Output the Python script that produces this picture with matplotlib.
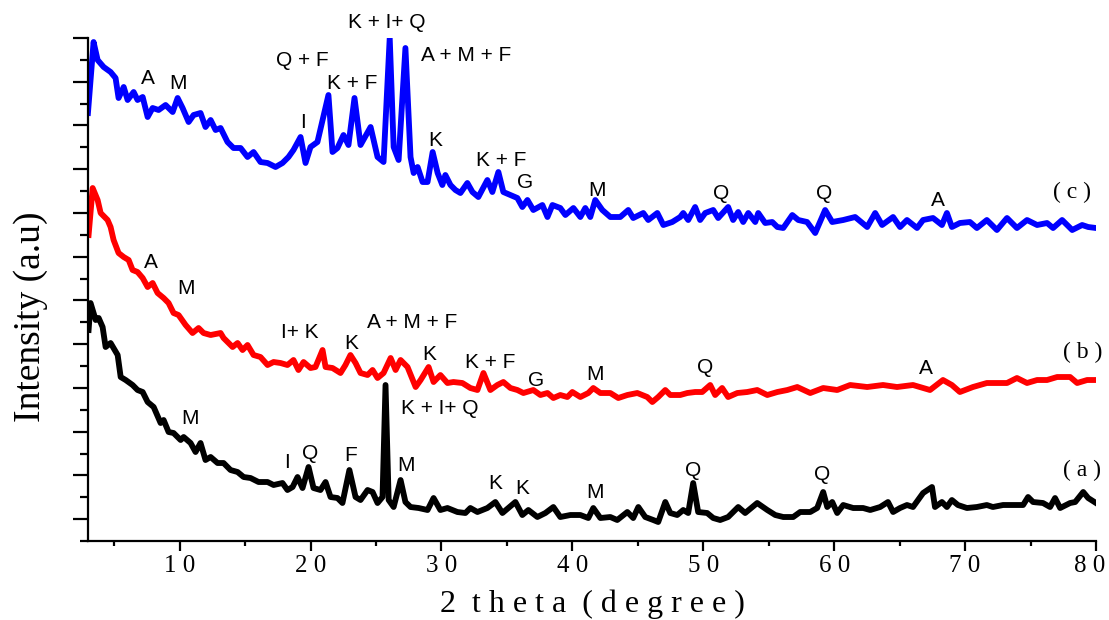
"""
XRD patterns of samples (a), (b), (c) with phase labels
"""

import matplotlib
matplotlib.use('Agg')
import matplotlib.pyplot as plt
from matplotlib.ticker import MultipleLocator, FuncFormatter
from matplotlib.transforms import ScaledTranslation

# 2 theta (degree) and intensity (a.u., curves already stacked)
theta_a = [3.05, 3.2, 3.59, 3.82, 4.12, 4.35, 4.73, 5.27, 5.5, 5.88, 6.41, 6.79, 7.18, 7.56, 8.02,
           8.55, 8.78, 9.16, 9.54, 10.08, 10.31, 10.84, 11.22, 11.6, 11.98, 12.37, 12.9, 13.36,
           13.89, 14.43, 14.89, 15.42, 16.03, 16.72, 17.18, 17.86, 18.24, 18.63, 19.01, 19.39,
           19.85, 20.23, 20.76, 21.15, 21.53, 22.06, 22.44, 22.97, 23.44, 23.82, 24.36, 24.74,
           25.12, 25.5, 25.73, 25.97, 26.35, 26.88, 27.25, 27.64, 28.26, 28.94, 29.4, 29.92,
           30.46, 31.22, 31.83, 32.21, 32.75, 33.51, 34.12, 34.66, 35.11, 35.65, 36.18, 36.64,
           37.33, 37.94, 38.55, 39.08, 39.85, 40.61, 41.22, 41.6, 42.14, 42.9, 43.43, 44.2,
           44.65, 45.04, 45.57, 46.18, 46.56, 47.1, 47.48, 48.01, 48.47, 48.85, 49.23, 49.61,
           50.3, 50.76, 51.29, 51.9, 52.67, 53.2, 54.12, 54.89, 55.5, 56.11, 56.87, 57.4, 58.17,
           58.7, 59.16, 59.47, 59.85, 60.23, 60.69, 61.45, 62.21, 62.75, 63.51, 64.11, 64.5,
           65.03, 65.56, 66.02, 66.79, 67.47, 67.7, 68.23, 68.61, 68.99, 69.45, 70.14, 70.9,
           71.66, 72.12, 72.9, 73.66, 74.43, 74.81, 75.19, 75.95, 76.49, 76.87, 77.26, 78.02,
           78.41, 79.02, 79.4, 80.0]
int_a = [211, 238, 221, 223, 214, 194, 198, 186, 164, 161, 156, 151, 149, 139, 134,
         118, 121, 109, 108, 101, 104, 98, 89, 98, 81, 84, 78, 78,
         71, 69, 64, 63, 59, 59, 56, 58, 51, 54, 64, 53,
         74, 53, 51, 59, 44, 43, 38, 71, 44, 41, 51, 49,
         38, 44, 156, 41, 34, 61, 39, 34, 33, 31, 43, 31,
         33, 29, 28, 33, 29, 33, 39, 28, 33, 39, 26, 31,
         24, 28, 34, 24, 26, 26, 23, 33, 23, 24, 21, 29,
         23, 34, 24, 21, 19, 39, 28, 26, 31, 28, 58, 29,
         28, 23, 21, 24, 34, 28, 38, 31, 26, 24, 24, 29, 29,
         33, 49, 34, 39, 28, 36, 33, 33, 31, 34, 39, 29,
         33, 36, 34, 48, 54, 34, 39, 34, 41, 36, 33, 34,
         36, 34, 36, 36, 36, 44, 39, 38, 34, 43, 33, 38,
         39, 49, 43, 38]

theta_b = [3.05, 3.36, 3.74, 3.97, 4.5, 4.73, 4.96, 5.34, 5.73, 6.11, 6.41, 6.79, 7.18, 7.56, 7.94,
           8.32, 8.78, 9.16, 9.54, 9.92, 10.46, 10.99, 11.45, 11.83, 12.37, 13.13, 13.36, 14.05,
           14.43, 14.81, 15.19, 15.65, 16.18, 16.72, 17.18, 17.71, 18.24, 18.7, 19.08, 19.47,
           20.0, 20.38, 20.92, 21.15, 21.68, 22.29, 22.67, 23.05, 23.44, 23.82, 24.36, 24.74,
           25.12, 25.58, 26.12, 26.5, 26.88, 27.41, 28.03, 28.41, 29.02, 29.4, 29.92, 30.46,
           30.92, 31.6, 32.21, 32.75, 33.21, 33.74, 34.27, 34.73, 35.27, 35.8, 36.26, 37.02,
           37.56, 38.1, 38.55, 39.08, 39.62, 40.0, 40.61, 41.22, 41.6, 42.14, 42.9, 43.51,
           44.2, 44.96, 45.72, 46.11, 46.56, 47.1, 47.48, 48.24, 48.78, 49.38, 49.92, 50.53,
           50.91, 51.44, 51.9, 52.6, 53.36, 54.12, 54.89, 55.66, 56.42, 57.18, 58.17, 59.16,
           60.23, 61.22, 62.52, 63.73, 64.8, 66.02, 67.32, 68.31, 68.99, 69.6, 70.6, 71.66,
           72.43, 73.2, 73.96, 74.73, 75.5, 76.26, 77.03, 78.02, 78.56, 79.32, 80.0]
int_b = [306, 353, 341, 328, 321, 314, 301, 288, 284, 281, 271, 269, 263, 254, 258,
         248, 243, 238, 228, 226, 216, 208, 213, 208, 206, 208, 203, 194,
         198, 191, 196, 186, 184, 176, 179, 178, 176, 181, 171, 179,
         173, 174, 191, 174, 173, 168, 176, 186, 178, 168, 166, 171,
         163, 168, 183, 171, 181, 174, 154, 161, 174, 159, 166, 158,
         159, 158, 153, 151, 168, 151, 156, 159, 153, 151, 148, 151,
         146, 148, 143, 146, 144, 149, 144, 148, 153, 148, 148, 143,
         146, 148, 144, 139, 144, 151, 146, 146, 148, 149, 149, 156,
         146, 153, 144, 148, 149, 151, 146, 149, 151, 154, 148, 153,
         151, 156, 154, 156, 154, 156, 151, 161, 156, 149, 154, 158,
         158, 158, 163, 158, 161, 161, 164, 164, 158, 161, 161]

theta_c = [3.0, 3.43, 3.74, 4.2, 4.73, 5.11, 5.34, 5.73, 6.03, 6.49, 6.79, 7.18, 7.56, 7.94, 8.4,
           8.93, 9.47, 9.85, 10.23, 10.69, 11.07, 11.6, 11.98, 12.37, 12.75, 13.13, 13.66, 14.12,
           14.66, 15.19, 15.65, 16.18, 16.72, 17.33, 17.86, 18.32, 18.7, 19.24, 19.62, 20.0,
           20.53, 20.92, 21.37, 21.68, 22.06, 22.52, 22.9, 23.36, 23.82, 24.59, 25.12, 25.58,
           26.05, 26.35, 26.73, 27.25, 27.64, 27.88, 28.18, 28.56, 28.94, 29.33, 29.71, 30.07,
           30.3, 30.69, 31.07, 31.45, 31.98, 32.37, 32.82, 33.51, 33.89, 34.35, 34.73, 35.27,
           35.8, 36.18, 36.57, 37.02, 37.71, 38.1, 38.48, 39.08, 39.47, 40.08, 40.61, 40.99,
           41.37, 41.75, 42.29, 42.9, 43.66, 44.27, 44.65, 45.42, 45.8, 46.49, 46.95, 47.63,
           48.24, 48.47, 48.85, 49.38, 49.76, 50.15, 50.76, 51.14, 51.9, 52.28, 52.67, 53.05,
           53.44, 53.97, 54.2, 54.73, 55.27, 55.66, 56.11, 56.8, 57.26, 57.93, 58.55, 59.31,
           59.85, 60.69, 61.6, 62.52, 63.13, 63.66, 64.5, 65.03, 65.56, 66.33, 66.79, 67.55,
           68.23, 68.61, 68.99, 69.6, 70.37, 70.9, 71.66, 72.43, 73.2, 73.96, 74.73, 75.5,
           76.26, 76.72, 77.41, 78.18, 78.94, 79.4, 80.0]
int_c = [428, 499, 481, 474, 469, 463, 443, 454, 441, 449, 441, 444, 424, 433, 431,
         436, 429, 443, 433, 419, 426, 428, 414, 421, 411, 413, 399, 393,
         393, 384, 389, 379, 378, 374, 378, 384, 391, 404, 378, 394,
         399, 421, 446, 389, 393, 406, 396, 443, 396, 414, 384, 379,
         503, 394, 381, 493, 384, 368, 374, 359, 359, 389, 368, 356,
         366, 356, 351, 348, 358, 349, 344, 361, 349, 369, 349, 346,
         343, 334, 341, 331, 336, 324, 336, 333, 326, 333, 324, 333,
         324, 341, 331, 324, 324, 331, 323, 328, 321, 328, 316, 319,
         324, 328, 321, 334, 321, 328, 331, 323, 334, 321, 329, 319,
         328, 319, 328, 318, 319, 314, 313, 326, 321, 319, 308, 331,
         319, 321, 324, 314, 328, 316, 324, 314, 321, 313, 321, 323,
         316, 328, 314, 318, 319, 313, 321, 311, 323, 313, 321, 316,
         318, 313, 321, 311, 316, 314, 313]

x_major = [10, 20, 30, 40, 50, 60, 70, 80]
x_minor = [5, 15, 25, 35, 45, 55, 65, 75]

# phase labels: (text, 2 theta, intensity)
labels_a = [('M', 10.8, 123), ('I', 18.2, 79), ('Q', 20.0, 88), ('F', 23.05, 86),
            ('K + I+ Q', 29.9, 133), ('M', 27.3, 76), ('K', 34.1, 58), ('K', 36.2, 53),
            ('M', 41.75, 49), ('Q', 49.2, 71), ('Q', 59.1, 67)]
labels_b = [('A', 7.8, 279), ('M', 10.5, 253), ('I+ K', 19.2, 209), ('K', 23.1, 198),
            ('A + M + F', 27.8, 219), ('K', 29.1, 187), ('K + F', 33.7, 179), ('G', 37.2, 161),
            ('M', 41.75, 167), ('Q', 50.15, 174), ('A', 67.0, 173)]
labels_c = [('A', 7.6, 463), ('M', 9.85, 458), ('Q + F', 19.4, 481), ('I', 19.4, 419),
            ('K + F', 23.2, 458), ('K + I+ Q', 25.8, 519), ('A + M + F', 31.85, 486),
            ('K', 29.5, 401), ('K + F', 34.6, 381), ('G', 36.4, 359), ('M', 41.9, 351),
            ('Q', 51.4, 348), ('Q', 59.2, 348), ('A', 67.9, 341)]
sample_tags = [('( a )', 78.9, 71), ('( b )', 79.0, 189), ('( c )', 78.2, 349)]

serif = ['Liberation Serif', 'DejaVu Serif']
sans = ['Liberation Sans', 'DejaVu Sans']

fig = plt.figure(figsize=(11.09, 6.2), dpi=100)
ax = fig.add_axes([0.0793, 0.1274, 0.9090, 0.8113])

ax.plot(theta_a, int_a, color='black', lw=4.2, solid_joinstyle='round')
ax.plot(theta_b, int_b, color='red', lw=4.2, solid_joinstyle='round')
ax.plot(theta_c, int_c, color='blue', lw=4.2, solid_joinstyle='round')

for group in (labels_a, labels_b, labels_c):
    for txt, x, y in group:
        ax.text(x, y, txt, ha='center', va='center', fontsize=15, family=sans)
for txt, x, y in sample_tags:
    ax.text(x, y, txt, ha='center', va='center', fontsize=17, family=serif)

ax.set_xlim(3, 80)
ax.set_ylim(0, 503)
step = 503 / 23
ax.set_xticks(x_major)
ax.set_xticks(x_minor, minor=True)
ax.set_xticklabels([' '.join(str(v)) for v in x_major])
ax.yaxis.set_major_locator(MultipleLocator(2 * step, offset=step))
ax.yaxis.set_minor_locator(MultipleLocator(step))

for side in ('top', 'right'):
    ax.spines[side].set_visible(False)
for side in ('left', 'bottom'):
    ax.spines[side].set_linewidth(1.6)

ax.tick_params(axis='x', which='major', direction='out', length=7, width=1.6, pad=3)
ax.tick_params(axis='x', which='minor', direction='out', length=3.6, width=1.6)
ax.tick_params(axis='y', which='major', direction='out', length=11, width=1.6, labelleft=False)
ax.tick_params(axis='y', which='minor', direction='out', length=5.6, width=1.6)
xlabels = ax.get_xticklabels()
for lab in xlabels:
    lab.set_fontfamily(serif)
    lab.set_fontsize(18)
# last label sits at the figure edge, nudge it left a little
xlabels[-1].set_transform(xlabels[-1].get_transform() +
                          ScaledTranslation(-6 / 100, 0, fig.dpi_scale_trans))

ax.set_xlabel('2  t h e t a  ( d e g r e e )', fontsize=23, family=serif)
ax.set_ylabel('Intensity (a.u)', fontsize=27, family=serif)
ax.xaxis.set_label_coords(0.5, -0.097)
ax.yaxis.set_label_coords(-0.040, 0.445)

fig.savefig('out.png', dpi=100)
